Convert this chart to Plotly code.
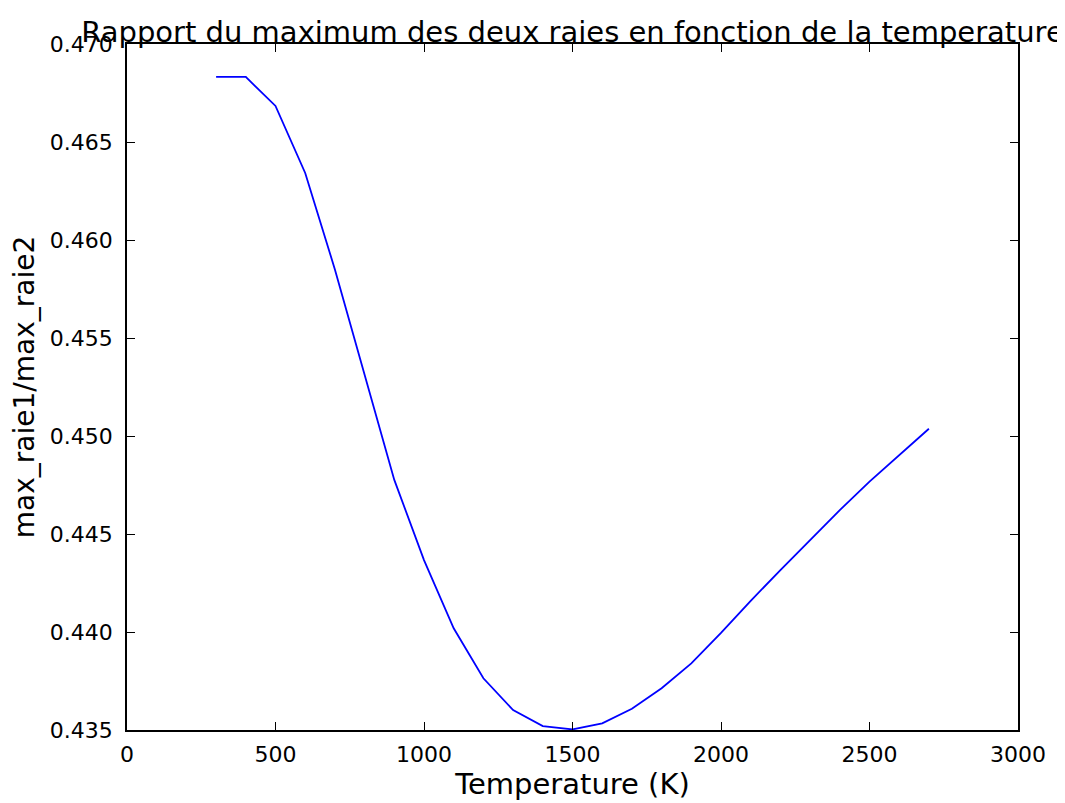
import plotly.graph_objects as go

temperature = [300, 400, 500, 600, 700, 800, 900, 1000, 1100, 1200, 1300, 1400,
               1500, 1600, 1700, 1800, 1900, 2000, 2100, 2200, 2300, 2400, 2500,
               2600, 2700]
ratio = [0.46832, 0.46832, 0.46684, 0.46342, 0.45850, 0.45311, 0.44776, 0.44367,
         0.44019, 0.43764, 0.43602, 0.43520, 0.43503, 0.43534, 0.43608, 0.43713,
         0.43840, 0.43995, 0.44159, 0.44316, 0.44469, 0.44622, 0.44767, 0.44903,
         0.45037]

x_ticks = [0, 500, 1000, 1500, 2000, 2500, 3000]
y_ticks = [0.435, 0.440, 0.445, 0.450, 0.455, 0.460, 0.465, 0.470]

fig = go.Figure()
fig.add_trace(go.Scatter(x=temperature, y=ratio, mode="lines",
                         line=dict(color="#0000ff", width=1.8),
                         showlegend=False, hoverinfo="skip"))

font_family = "DejaVu Sans"
axis_common = dict(
    showline=True, linecolor="black", linewidth=1.5, mirror="ticks",
    ticks="inside", ticklen=8, tickwidth=1, tickcolor="black",
    showgrid=False, zeroline=False,
    tickfont=dict(family=font_family, size=22, color="black"),
)

fig.update_layout(
    width=1065, height=803,
    margin=dict(l=119, r=55, t=36, b=81),
    paper_bgcolor="white", plot_bgcolor="white",
    font=dict(family=font_family, color="black"),
    title=dict(text="Rapport du maximum des deux raies en fonction de la temperature",
               x=0.5, xref="paper", xanchor="center",
               y=1.0, yref="paper", yanchor="bottom", pad=dict(b=2),
               font=dict(family=font_family, size=29, color="black")),
    xaxis=dict(range=[0, 3000], tickvals=x_ticks,
               ticktext=[str(v) for v in x_ticks], ticklabelstandoff=4,
               title=dict(text="Temperature (K)", standoff=6,
                          font=dict(family=font_family, size=29, color="black")),
               **axis_common),
    yaxis=dict(range=[0.435, 0.470], tickvals=y_ticks,
               ticktext=[f"{v:.3f}" for v in y_ticks], ticklabelstandoff=8,
               title=dict(text="max_raie1/max_raie2", standoff=10,
                          font=dict(family=font_family, size=28, color="black")),
               **axis_common),
)

fig.write_html("out.html")
